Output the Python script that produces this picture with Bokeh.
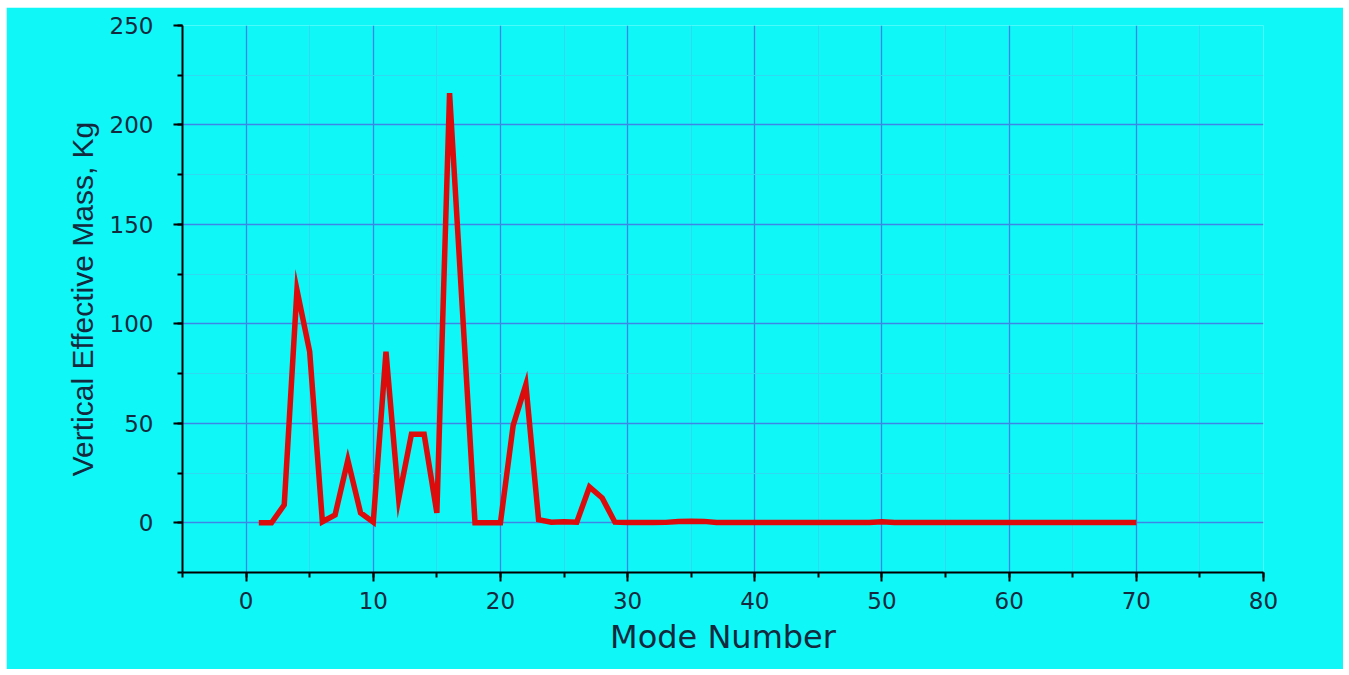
from bokeh.plotting import figure
from bokeh.models import Range1d, SingleIntervalTicker, FixedTicker
from bokeh.embed import file_html
from bokeh.resources import INLINE

# Data
mode_number = list(range(1, 71))
effective_mass = [
    0, 0, 9, 117, 86, 0.5, 4, 31.5, 5, 0.3,
    86, 12, 44.5, 44.5, 5, 216, 108, 0, 0, 0,
    49, 69.5, 1.5, 0.3, 0.5, 0.3, 18, 12.5, 0.3, 0.1,
    0.1, 0.1, 0.2, 0.6, 0.8, 0.7, 0.1, 0.1, 0.1, 0.1,
    0.1, 0.1, 0.1, 0.1, 0.1, 0.1, 0.1, 0.1, 0.1, 0.5,
    0.1, 0.1, 0.1, 0.1, 0.1, 0.1, 0.1, 0.1, 0.1, 0.1,
    0.1, 0.1, 0.1, 0.1, 0.1, 0.1, 0.1, 0.1, 0.1, 0.1,
]
x_major = [0, 10, 20, 30, 40, 50, 60, 70]
x_minor = [5, 15, 25, 35, 45, 55, 65, 75]
y_major = [0, 50, 100, 150, 200]
y_minor = [25, 75, 125, 175, 225]

BG = "#0ff7f7"
TXT = "#13293d"
FONT = "DejaVu Sans"

p = figure(
    width=1337, height=662,
    x_range=Range1d(-5, 80), y_range=Range1d(-25, 250),
    output_backend="svg", toolbar_location=None,
    min_border_left=176, min_border_top=18, min_border_right=80, min_border_bottom=97,
    background_fill_color=BG, border_fill_color=BG,
)
p.margin = (7, 6, 6, 6)
p.outline_line_color = None

p.xaxis.ticker = SingleIntervalTicker(interval=10, num_minor_ticks=2)
p.yaxis.ticker = SingleIntervalTicker(interval=50, num_minor_ticks=2)

p.xgrid.ticker = FixedTicker(ticks=x_major, minor_ticks=x_minor)
p.ygrid.ticker = FixedTicker(ticks=y_major, minor_ticks=y_minor)
for g in (p.xgrid, p.ygrid):
    g.grid_line_color = "#3d86e6"
    g.grid_line_width = 1.3
    g.minor_grid_line_color = "#2fd9f2"
    g.minor_grid_line_width = 1

for ax in (p.xaxis, p.yaxis):
    ax.axis_line_color = "black"
    ax.axis_line_width = 2
    ax.major_tick_line_color = "black"
    ax.major_tick_line_width = 2
    ax.major_tick_out = 9
    ax.major_tick_in = 0
    ax.minor_tick_line_color = "black"
    ax.minor_tick_line_width = 2
    ax.minor_tick_out = 5
    ax.minor_tick_in = 0
    ax.major_label_text_font = FONT
    ax.major_label_text_color = TXT
    ax.major_label_text_font_size = "23px"
    ax.axis_label_text_color = TXT
    ax.axis_label_text_font_style = "normal"

p.xaxis.axis_label = "Mode Number"
p.xaxis.axis_label_text_font = FONT
p.xaxis.axis_label_text_font_size = "32px"
p.xaxis.major_label_standoff = 10
p.xaxis.axis_label_standoff = 6

p.yaxis.axis_label = "Vertical Effective Mass, Kg"
p.yaxis.axis_label_text_font = "Liberation Sans"
p.yaxis.axis_label_text_font_size = "30px"
p.yaxis.major_label_standoff = 20
p.yaxis.axis_label_standoff = 8

p.line(mode_number, effective_mass, line_color="#dc0c0c", line_width=5.5, line_join="miter")

open("out.html", "w").write(file_html(p, INLINE))
